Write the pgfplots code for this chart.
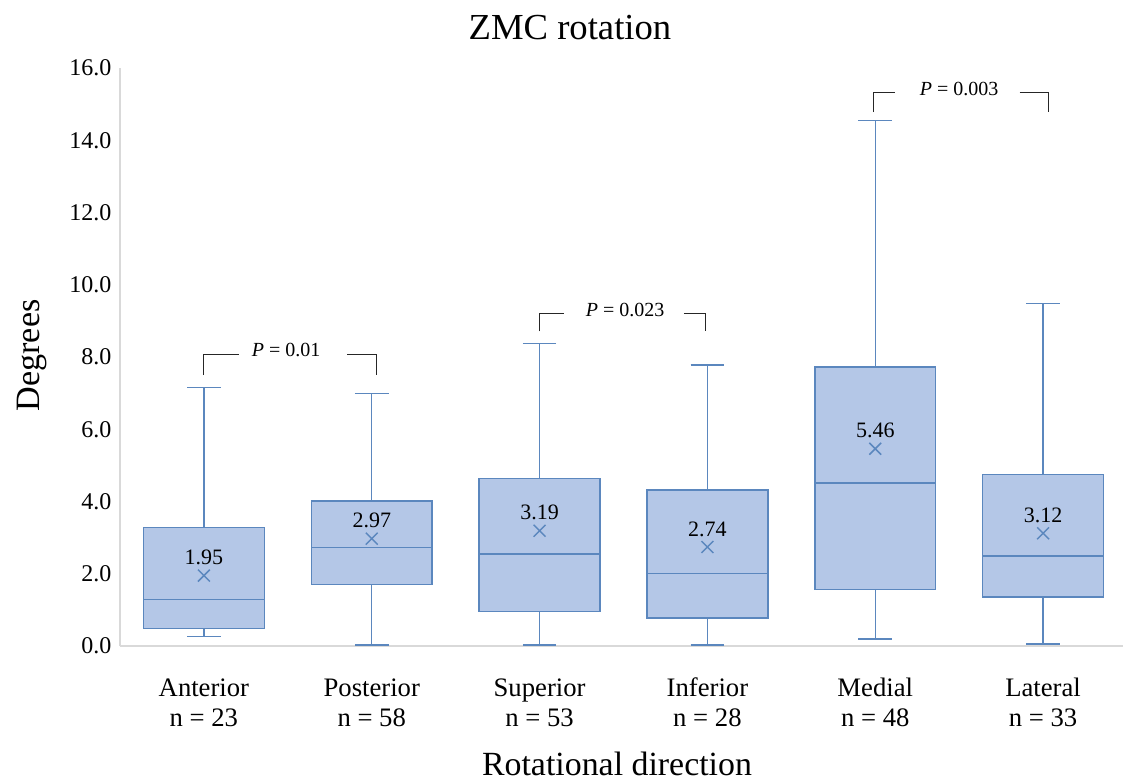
\documentclass[border=0pt]{standalone}
\usepackage{fontspec}
\setmainfont{Liberation Serif}
\usepackage{pgfplots}
\pgfplotsset{compat=1.18}
\usepgfplotslibrary{statistics}
\definecolor{boxfill}{HTML}{B4C7E7}
\definecolor{boxdraw}{HTML}{5B87BE}
\definecolor{axgray}{HTML}{D9D9D9}
\begin{document}
\begin{tikzpicture}
\path[use as bounding box] (-90pt,-103.5pt) rectangle (752.25pt,484.5pt);
\begin{axis}[at={(0,0)}, anchor=south west, scale only axis,
  width=755.25pt, height=433.5pt,
  xmin=-0.5, xmax=5.5, ymin=0, ymax=16,
  axis x line*=bottom, axis y line*=left,
  axis line style={axgray, line width=0.8pt, -},
  ytick={0,2,...,16}, xtick={0,...,5},
  xticklabels={{\strut Anterior\\n = 23},{\strut Posterior\\n = 58},{\strut Superior\\n = 53},{\strut Inferior\\n = 28},{\strut Medial\\n = 48},{\strut Lateral\\n = 33}},
  major tick length=0pt,
  /pgf/number format/assume math mode=true,
  yticklabel style={/pgf/number format/fixed, /pgf/number format/fixed zerofill, /pgf/number format/precision=1, font=\fontsize{18}{20}\selectfont, xshift=-3pt},
  xticklabel style={align=center, font=\fontsize{20}{22.5}\selectfont, yshift=-18.5pt},
  clip=false,
  boxplot/draw direction=y,
  boxplot/box extend=0.72,
  boxplot/whisker extend=0.2,
]
\addplot[boxplot prepared={draw position=0, lower whisker=0.27, lower quartile=0.48, median=1.29, upper quartile=3.28, upper whisker=7.16}, fill=boxfill, draw=boxdraw, line width=1.1pt] coordinates {};
\addplot[boxplot prepared={draw position=1, lower whisker=0.03, lower quartile=1.70, median=2.72, upper quartile=4.01, upper whisker=6.99}, fill=boxfill, draw=boxdraw, line width=1.1pt] coordinates {};
\addplot[boxplot prepared={draw position=2, lower whisker=0.03, lower quartile=0.95, median=2.55, upper quartile=4.64, upper whisker=8.38}, fill=boxfill, draw=boxdraw, line width=1.1pt] coordinates {};
\addplot[boxplot prepared={draw position=3, lower whisker=0.03, lower quartile=0.77, median=2.01, upper quartile=4.32, upper whisker=7.78}, fill=boxfill, draw=boxdraw, line width=1.1pt] coordinates {};
\addplot[boxplot prepared={draw position=4, lower whisker=0.19, lower quartile=1.56, median=4.51, upper quartile=7.72, upper whisker=14.54}, fill=boxfill, draw=boxdraw, line width=1.1pt] coordinates {};
\addplot[boxplot prepared={draw position=5, lower whisker=0.05, lower quartile=1.35, median=2.49, upper quartile=4.75, upper whisker=9.48}, fill=boxfill, draw=boxdraw, line width=1.1pt] coordinates {};
% means
\addplot[only marks, mark=x, mark size=6.3pt, color=boxdraw, line width=1.1pt,
  point meta=explicit symbolic,
  nodes near coords, nodes near coords style={black, anchor=south, yshift=4pt, font=\fontsize{16.5}{18}\selectfont}]
  coordinates {(0,1.95)[1.95] (1,2.97)[2.97] (2,3.19)[3.19] (3,2.74)[2.74] (4,5.46)[5.46] (5,3.12)[3.12]};
% significance brackets
\draw[black!85, line width=0.8pt] (axis cs:0,7.5) -- (axis cs:0,8.08) -- (axis cs:0.21,8.08);
\draw[black!85, line width=0.8pt] (axis cs:0.855,8.08) -- (axis cs:1.03,8.08) -- (axis cs:1.03,7.5);
\node[font=\fontsize{15}{17}\selectfont, yshift=3pt] at (axis cs:0.49,8.08) {\textit{P} = 0.01};
\draw[black!85, line width=0.8pt] (axis cs:2,8.71) -- (axis cs:2,9.2) -- (axis cs:2.145,9.2);
\draw[black!85, line width=0.8pt] (axis cs:2.86,9.2) -- (axis cs:2.99,9.2) -- (axis cs:2.99,8.71);
\node[font=\fontsize{15}{17}\selectfont, yshift=3pt] at (axis cs:2.51,9.2) {\textit{P} = 0.023};
\draw[black!85, line width=0.8pt] (axis cs:3.99,14.78) -- (axis cs:3.99,15.31) -- (axis cs:4.12,15.31);
\draw[black!85, line width=0.8pt] (axis cs:4.86,15.31) -- (axis cs:5.03,15.31) -- (axis cs:5.03,14.78);
\node[font=\fontsize{15}{17}\selectfont, yshift=3pt] at (axis cs:4.50,15.31) {\textit{P} = 0.003};
\end{axis}
\node[font=\fontsize{27.5}{30}\selectfont] at (337.5pt,463.5pt) {ZMC rotation};
\node[font=\fontsize{25.4}{28}\selectfont, inner sep=0pt, anchor=base] at (372.75pt,-97pt) {Rotational direction};
\node[font=\fontsize{25.6}{28}\selectfont, rotate=90] at (-66pt,218pt) {Degrees};
\end{tikzpicture}
\end{document}
